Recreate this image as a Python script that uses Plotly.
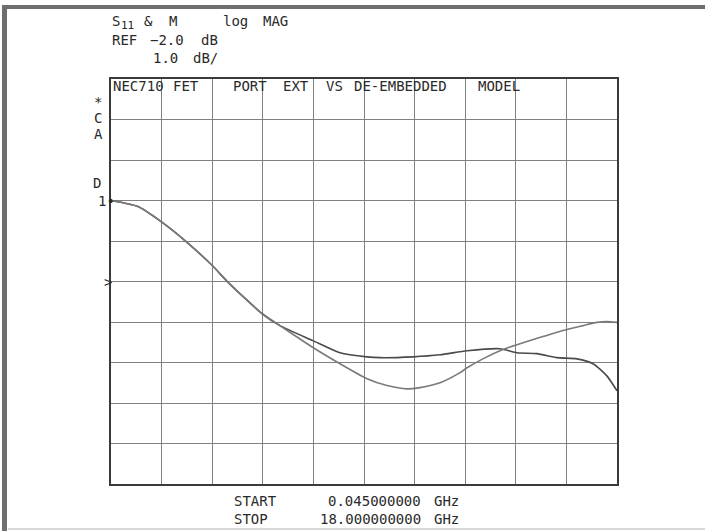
import plotly.graph_objects as go

# ---- data (frequency in GHz, magnitude in dB) ----
port_ext_freq = [0.045, 1.00, 1.86, 2.67, 3.63, 4.20, 5.40, 6.04, 7.21, 8.17, 9.13, 9.59,
                 10.76, 11.72, 12.68, 13.85, 14.45, 15.16, 15.87, 16.58, 17.15, 17.64, 18.0]
port_ext_db = [0.00, -0.15, -0.54, -0.99, -1.60, -2.02, -2.79, -3.09, -3.46, -3.76, -3.86, -3.88,
               -3.86, -3.81, -3.71, -3.66, -3.76, -3.78, -3.88, -3.91, -4.03, -4.33, -4.70]

model_freq = [0.045, 1.00, 1.86, 2.67, 3.63, 4.20, 5.40, 6.04, 7.21, 8.17, 9.13, 9.84, 10.55,
              11.01, 11.72, 12.43, 12.68, 13.24, 13.95, 14.45, 15.37, 16.08, 16.79, 17.29, 17.64, 18.0]
model_db = [0.00, -0.15, -0.54, -0.99, -1.60, -2.02, -2.79, -3.09, -3.63, -4.03, -4.40, -4.57, -4.65,
            -4.62, -4.50, -4.25, -4.13, -3.91, -3.68, -3.56, -3.36, -3.21, -3.09, -3.01, -2.99, -3.01]

start_ghz = 0.045
stop_ghz = 18.0
ref_db = -2.0
scale_db = 1.0
divisions = 10

W, H = 705, 531
L, R, T, B = 111, 617, 79, 484

fig = go.Figure()
fig.add_trace(go.Scatter(x=port_ext_freq, y=port_ext_db, mode="lines",
                         line=dict(color="#4a4a4a", width=1.6, shape="spline", smoothing=0.6),
                         name="PORT EXT", showlegend=False))
fig.add_trace(go.Scatter(x=model_freq, y=model_db, mode="lines",
                         line=dict(color="#7a7a7a", width=1.6, shape="spline", smoothing=0.6),
                         name="DE-EMBEDDED MODEL", showlegend=False))

def px(x):
    return (x - L) / (R - L)

def py(y):
    return (B - y) / (B - T)

FONT = "DejaVu Sans Mono"
TXT = "#2a2a2a"

def label(text, x, y, size=14, anchor="left"):
    fig.add_annotation(text=text, x=px(x), y=py(y), xref="paper", yref="paper",
                       xanchor=anchor, yanchor="middle", showarrow=False,
                       font=dict(family=FONT, size=size, color=TXT))

# header
label("S", 110, 21)
label("11", 119, 25, size=11)
label("&", 142, 21)
label("M", 167, 21)
label("log", 221, 21)
label("MAG", 261, 21)
label("REF", 110, 40)
label("−2.0", 148, 40)
label("dB", 199, 40)
label("1.0", 151, 58)
label("dB/", 191, 58)

# title inside the grid
label("NEC710", 111, 86)
label("FET", 171, 86)
label("PORT", 231, 86)
label("EXT", 281, 86)
label("VS", 324, 86)
label("DE-EMBEDDED", 352, 86)
label("MODEL", 476, 86)

# left annotation column
label("*", 92, 102)
label("C", 92, 118)
label("A", 92, 134)
label("D", 91, 183)
label("1•", 96, 201)
label(">", 102, 282)

# footer
label("START", 232, 501)
label("0.045000000", 423, 501, anchor="right")
label("GHz", 432, 501)
label("STOP", 232, 519)
label("18.000000000", 423, 519, anchor="right")
label("GHz", 432, 519)

# page frame (grey bars at left and top, faint bottom line)
fig.add_shape(type="rect", xref="paper", yref="paper", x0=px(2), x1=px(7), y0=py(531), y1=py(5),
              fillcolor="#6e6e6e", line=dict(width=0), layer="above")
fig.add_shape(type="rect", xref="paper", yref="paper", x0=px(2), x1=px(705), y0=py(9), y1=py(5),
              fillcolor="#6e6e6e", line=dict(width=0), layer="above")
fig.add_shape(type="line", xref="paper", yref="paper", x0=px(8), x1=px(705), y0=py(529), y1=py(529),
              line=dict(color="#d8d8d8", width=2))

fig.update_layout(
    width=W, height=H,
    margin=dict(l=L, r=W - R, t=T, b=H - B, pad=0),
    paper_bgcolor="white", plot_bgcolor="white",
    xaxis=dict(range=[start_ghz, stop_ghz], tick0=start_ghz, dtick=(stop_ghz - start_ghz) / divisions,
               showgrid=True, gridcolor="#808080", gridwidth=1.3, showticklabels=False, ticks="",
               zeroline=False, showline=True, linecolor="#3a3a3a", linewidth=1.5, mirror=True, fixedrange=True),
    yaxis=dict(range=[ref_db - 5 * scale_db, ref_db + 5 * scale_db], tick0=ref_db, dtick=scale_db,
               showgrid=True, gridcolor="#808080", gridwidth=1.3, showticklabels=False, ticks="",
               zeroline=False, showline=True, linecolor="#3a3a3a", linewidth=1.5, mirror=True, fixedrange=True),
)

fig.write_html("out.html", config={"displayModeBar": False},
               post_script="document.body.style.margin='0px';document.body.style.overflow='hidden';")
